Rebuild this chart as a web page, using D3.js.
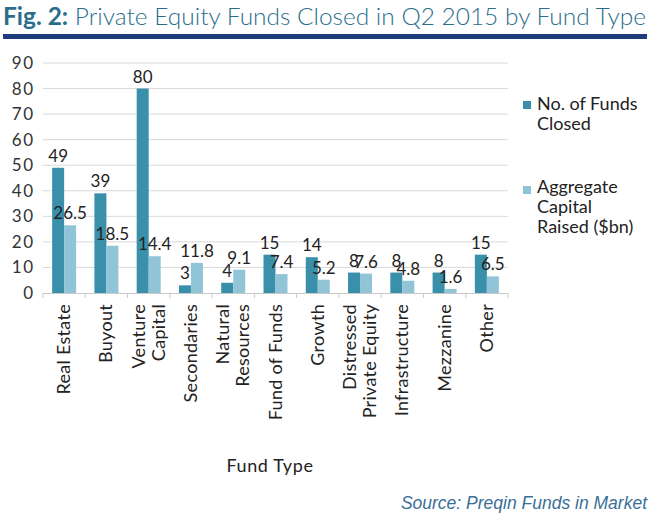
<!DOCTYPE html>
<html>
<head>
<meta charset="utf-8">
<script src="https://cdn.jsdelivr.net/npm/d3@7"></script>
<style>
  body { margin: 0; background: #fff; }
  svg { display: block; font-family: "Lato", "Open Sans", sans-serif; }
</style>
</head>
<body>
<svg id="chart" width="650" height="518"></svg>
<script>
const categories = [
  ['Real Estate'], ['Buyout'], ['Venture', 'Capital'], ['Secondaries'],
  ['Natural', 'Resources'], ['Fund of Funds'], ['Growth'],
  ['Distressed', 'Private Equity'], ['Infrastructure'], ['Mezzanine'], ['Other']
];
const fundsClosed = [49, 39, 80, 3, 4, 15, 14, 8, 8, 8, 15];
const capitalRaised = [26.5, 18.5, 14.4, 11.8, 9.1, 7.4, 5.2, 7.6, 4.8, 1.6, 6.5];
const yTicks = [0, 10, 20, 30, 40, 50, 60, 70, 80, 90];
const seriesNames = [['No. of Funds', 'Closed'], ['Aggregate', 'Capital', 'Raised ($bn)']];

const colors = ['#3a90ab', '#92c4d7'];
const svg = d3.select('#chart');

// title
const title = svg.append('text')
  .attr('x', 3).attr('y', 25)
  .attr('textLength', 643).attr('lengthAdjust', 'spacingAndGlyphs')
  .style('font-size', '24px').attr('fill', '#2b6e8c');
title.append('tspan').text('Fig. 2:').style('font-weight', 'bold');
title.append('tspan').text(' Private Equity Funds Closed in Q2 2015 by Fund Type').style('font-weight', 300);

svg.append('rect').attr('x', 3).attr('y', 34).attr('width', 644).attr('height', 5).attr('fill', '#1c3c7c');

const plot = { left: 43, right: 508, top: 63, bottom: 293 };

const x = d3.scaleBand()
  .domain(d3.range(categories.length))
  .range([plot.left, plot.right]);

const y = d3.scaleLinear().domain([0, 90]).range([plot.bottom, plot.top]);

const barW = 12;

// gridlines
svg.append('g').selectAll('line').data(yTicks.slice(1)).join('line')
  .attr('x1', plot.left).attr('x2', plot.right)
  .attr('y1', d => y(d)).attr('y2', d => y(d))
  .attr('stroke', '#d9d9d9').attr('stroke-width', 1);

// y labels
svg.append('g').selectAll('text').data(yTicks).join('text')
  .attr('x', 35).attr('y', d => y(d) + 6)
  .attr('text-anchor', 'end')
  .style('font-size', '17px').style('letter-spacing', '1.8px').attr('fill', '#333')
  .text(d => d);

// bars
const series = [fundsClosed, capitalRaised];
series.forEach((vals, s) => {
  const g = svg.append('g');
  const bx = i => x(i) + x.bandwidth() / 2 - barW + s * barW;
  g.selectAll('rect').data(vals).join('rect')
    .attr('x', (d, i) => bx(i))
    .attr('y', d => y(d))
    .attr('width', barW)
    .attr('height', d => y(0) - y(d))
    .attr('fill', colors[s]);
  g.selectAll('text').data(vals).join('text')
    .attr('x', (d, i) => bx(i) + barW / 2)
    .attr('y', d => y(d) - 6)
    .attr('text-anchor', 'middle')
    .style('font-size', '17px').attr('fill', '#222')
    .text(d => d);
});

// x axis line and ticks
svg.append('line')
  .attr('x1', plot.left).attr('x2', plot.right)
  .attr('y1', plot.bottom + 0.5).attr('y2', plot.bottom + 0.5)
  .attr('stroke', '#c8c8c8');
svg.append('g').selectAll('line').data(d3.range(categories.length + 1)).join('line')
  .attr('x1', i => plot.left + i * x.step()).attr('x2', i => plot.left + i * x.step())
  .attr('y1', plot.bottom).attr('y2', plot.bottom + 5)
  .attr('stroke', '#c8c8c8');

// category labels
categories.forEach((lines, i) => {
  const cx = x(i) + x.bandwidth() / 2;
  const t = svg.append('text')
    .attr('transform', `translate(${cx},304) rotate(-90)`)
    .attr('text-anchor', 'end')
    .style('font-size', '18px').style('letter-spacing', '0.3px').attr('fill', '#222');
  const off = (lines.length - 1) * 20 / 2;
  lines.forEach((ln, j) => {
    t.append('tspan').attr('x', 0).attr('y', -off + j * 20 + 6).text(ln);
  });
});

svg.append('text').attr('x', 270).attr('y', 472)
  .attr('text-anchor', 'middle').style('font-size', '18px').style('letter-spacing', '0.6px').attr('fill', '#222')
  .text('Fund Type');

// legend
const legendBox = [101, 186];
const legendText = [110, 193];
seriesNames.forEach((lines, s) => {
  svg.append('rect').attr('x', 523).attr('y', legendBox[s]).attr('width', 8).attr('height', 8).attr('fill', colors[s]);
  const t = svg.append('text').style('font-size', '18px').attr('fill', '#222');
  lines.forEach((ln, j) => {
    t.append('tspan').attr('x', 537).attr('y', legendText[s] + j * 20).text(ln);
  });
});

svg.append('text').attr('x', 647).attr('y', 509)
  .attr('text-anchor', 'end')
  .style('font-family', '"Liberation Sans", Arial, sans-serif')
  .style('font-style', 'italic').style('font-size', '17.5px').attr('fill', '#3a6f98')
  .text('Source: Preqin Funds in Market');
</script>
</body>
</html>
